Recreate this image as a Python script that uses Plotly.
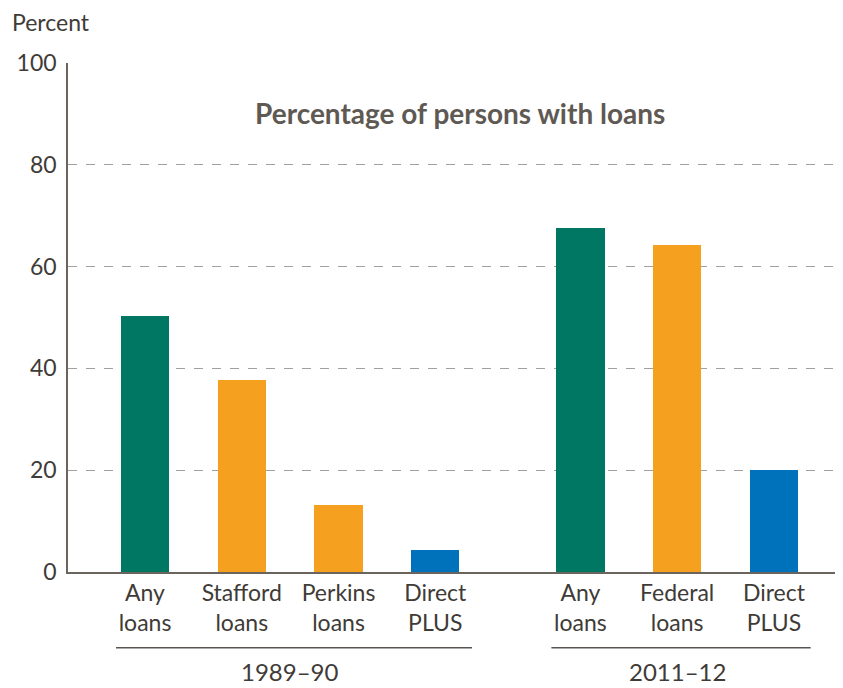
import plotly.graph_objects as go

# data
groups = ["1989–90", "2011–12"]
labels_8990 = ["Any<br>loans", "Stafford<br>loans", "Perkins<br>loans", "Direct<br>PLUS"]
values_8990 = [50.3, 37.7, 13.2, 4.4]
colors_8990 = ["#007763", "#f5a01f", "#f5a01f", "#0072bc"]
labels_1112 = ["Any<br>loans", "Federal<br>loans", "Direct<br>PLUS"]
values_1112 = [67.6, 64.2, 20.1]
colors_1112 = ["#007763", "#f5a01f", "#0072bc"]
y_ticks = [0, 20, 40, 60, 80, 100]

FONT = "Lato"
TEXT = "#403b37"

x1 = list(range(len(values_8990)))
x2 = [len(values_8990) + 0.5 + i for i in range(len(values_1112))]

fig = go.Figure()
fig.add_trace(go.Bar(x=x1, y=values_8990, marker=dict(color=colors_8990, line_width=0),
                     width=0.5, showlegend=False, hoverinfo="y"))
fig.add_trace(go.Bar(x=x2, y=values_1112, marker=dict(color=colors_1112, line_width=0),
                     width=0.5, showlegend=False, hoverinfo="y"))

# group brackets and labels
for xs, name in [(x1, groups[0]), (x2, groups[1])]:
    fig.add_shape(type="line", xref="x", yref="paper", x0=xs[0] - 0.3, x1=xs[-1] + 0.38,
                  y0=-0.149, y1=-0.149, line=dict(color="#5a5550", width=1.5))
    fig.add_annotation(x=(xs[0] + xs[-1]) / 2, y=-0.196, xref="x", yref="paper",
                       text=name, showarrow=False, yanchor="middle",
                       font=dict(family=FONT, size=24, color=TEXT))

fig.add_annotation(x=0.506, y=0.902, xref="paper", yref="paper", yanchor="middle",
                   text="<b>Percentage of persons with loans</b>", showarrow=False,
                   font=dict(family=FONT, size=28, color="#5f5954"))
fig.add_annotation(x=-0.0745, y=1.081, xref="paper", yref="paper", xanchor="left",
                   yanchor="middle", text="Percent", showarrow=False,
                   font=dict(family=FONT, size=23, color=TEXT))

# page body has an 8px margin, so the figure is 8px smaller than the window
fig.update_layout(
    width=835, height=680,
    margin=dict(l=60, r=0, t=55, b=116, autoexpand=False),
    plot_bgcolor="white", paper_bgcolor="white",
    bargap=0,
    font=dict(family=FONT, size=20, color=TEXT),
)
fig.update_xaxes(
    range=[-0.796, 7.214], tickvals=x1 + x2, ticktext=labels_8990 + labels_1112,
    showline=True, linecolor="#6b6560", linewidth=1.5, showgrid=False, zeroline=False,
    ticks="", tickfont=dict(family=FONT, size=23, color=TEXT),
)
fig.update_yaxes(
    range=[0, 100], tickvals=y_ticks, showline=True, linecolor="#6b6560", linewidth=1.5,
    showgrid=True, gridcolor="#a0a0a0", griddash="dash", gridwidth=1, zeroline=False,
    ticks="", ticklabelstandoff=5, tickfont=dict(family=FONT, size=23, color=TEXT),
)

fig.write_html("out.html")
